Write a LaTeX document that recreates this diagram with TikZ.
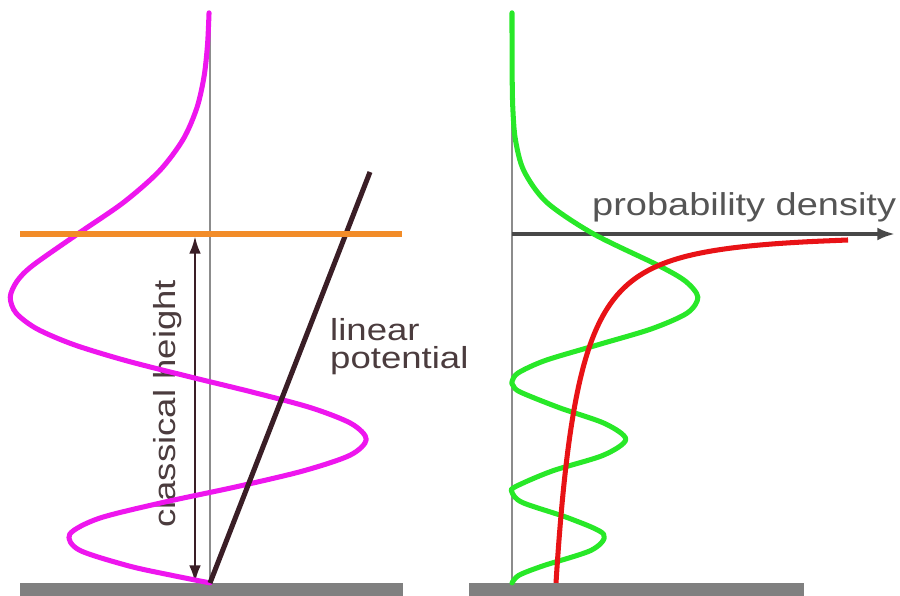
\documentclass[tikz,border=0pt]{standalone}
\usepackage{fontspec}
\setmainfont{Liberation Sans}[FakeStretch=1.2]
\usetikzlibrary{arrows.meta}

\definecolor{psimag}{RGB}{238,22,238}
\definecolor{densgreen}{RGB}{40,232,40}
\definecolor{classred}{RGB}{232,18,22}
\definecolor{levelorange}{RGB}{242,140,40}
\definecolor{potbrown}{RGB}{58,30,38}
\definecolor{axisgray}{RGB}{140,140,140}
\definecolor{floorgray}{RGB}{128,128,128}
\definecolor{densgray}{RGB}{72,72,72}
\definecolor{textgray}{RGB}{85,85,85}
\definecolor{textbrown}{RGB}{75,60,62}

\begin{document}
\begin{tikzpicture}[
    x=0.3mm, y=-0.3mm,
    font=\fontsize{26}{24}\selectfont,
    axis/.style={draw=axisgray, line width=1pt},
    wave/.style={line width=4.3pt, line cap=round, line join=round},
    level/.style={draw=levelorange, line width=4.6pt},
    potline/.style={draw=potbrown, line width=4.3pt},
    dimarrow/.style={{Latex[length=15pt,width=10pt]}-{Latex[length=15pt,width=10pt]},
        line width=2.5pt, draw=potbrown},
    densarrow/.style={-{Latex[length=15pt,width=11pt]}, line width=3.2pt, draw=densgray},
    lbl/.style={inner sep=0pt, align=left},
]
\useasboundingbox (0,0) rectangle (900,596);

% floors
\fill[floorgray] (20,583) rectangle (403,596);
\fill[floorgray] (469,583) rectangle (804,596);

% axes
\coordinate (topL) at (210,13);
\coordinate (botL) at (210,583);
\coordinate (topR) at (512,13);
\coordinate (botR) at (512,583);
\draw[axis] (topL) -- (botL);
\draw[axis] (topR) -- (botR);

% left panel: wave function Ai(z) against height
\coordinate (groundL) at (195,583);
\coordinate (turnL) at (195,236);
\draw[dimarrow] (groundL) -- (turnL);
\node[lbl, text=textbrown, rotate=90, anchor=base west] (classh) at (175,528) {classical height};

\begin{scope}[shift={(210,234)}, x=-111.9mm, y=18.96mm]
\draw[wave, psimag] plot[smooth] coordinates {
    (0.00258,3.5) (0.00659,3) (0.01573,2.5) (0.03492,2) (0.07175,1.5)
    (0.13529,1) (0.23169,0.5) (0.35503,0) (0.47573,-0.5) (0.5177,-0.75)
    (0.53556,-1) (0.5200,-1.25) (0.46426,-1.5) (0.3655,-1.75) (0.22741,-2)
    (0.061,-2.25) (-0.11233,-2.5) (-0.271,-2.75) (-0.37881,-3) (-0.419,-3.25)
    (-0.3755,-3.5) (-0.249,-3.75) (-0.07027,-4) (0.128,-4.25) (0.298,-4.5)
    (0.376,-4.75) (0.35076,-5) (0.219,-5.25) (0.103,-5.4) (0,-5.521)};
\end{scope}

\coordinate (potA) at (210,583);
\coordinate (potB) at (370,172);
\draw[potline] (potA) -- (potB);
\node[lbl, text=textbrown, anchor=north west] (linpot) at (330,318) {linear\\potential};

\coordinate (levelA) at (20,234);
\coordinate (levelB) at (402,234);
\draw[level] (levelA) -- (levelB);

% right panel: probability density
\coordinate (densA) at (512,234);
\coordinate (densB) at (895,234);
\draw[densarrow] (densA) -- (densB);
\node[lbl, text=textgray, anchor=base west] (probdens) at (592,215)
    {\fontsize{27}{24}\selectfont probability density};

\begin{scope}[shift={(512,234)}, x=194.4mm, y=18.96mm]
\draw[wave, densgreen] plot[smooth] coordinates {
    (0.0000067,3.5) (0.0000434,3) (0.000247,2.5) (0.00122,2) (0.00515,1.5)
    (0.0183,1) (0.0537,0.5) (0.1260,0) (0.2263,-0.5) (0.2680,-0.75)
    (0.2868,-1) (0.2704,-1.25) (0.2155,-1.5) (0.1336,-1.75) (0.0517,-2)
    (0.0092,-2.2) (0,-2.338) (0.0019,-2.4) (0.0126,-2.5) (0.0734,-2.75)
    (0.1435,-3) (0.1756,-3.25) (0.1410,-3.5) (0.0620,-3.75) (0.0049,-4)
    (0,-4.088) (0.0164,-4.25) (0.0888,-4.5) (0.1414,-4.75) (0.1230,-5)
    (0.0480,-5.25) (0.0106,-5.4) (0,-5.521)};
\end{scope}

\begin{scope}[shift={(512,234)}, x=0.3mm, y=18.96mm]
\draw[wave, classred, line cap=butt] plot[smooth, domain=0.3077:2.3497, samples=50]
    ({103.4/\x}, {-\x*\x});
\end{scope}
\end{tikzpicture}
\end{document}
